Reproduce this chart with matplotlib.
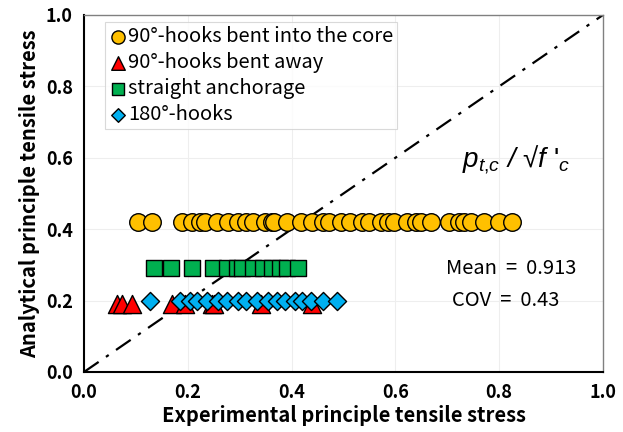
import matplotlib
matplotlib.use("Agg")
import matplotlib.pyplot as plt

plt.rcParams['font.family'] = ['Noto Sans CJK KR', 'DejaVu Sans']
plt.rcParams['mathtext.fontset'] = 'custom'
plt.rcParams['mathtext.rm'] = 'Liberation Sans'
plt.rcParams['mathtext.it'] = 'Liberation Sans:italic'

# Data
core_x = [0.104, 0.131, 0.188, 0.208, 0.223, 0.233, 0.256, 0.277, 0.296, 0.313,
          0.325, 0.348, 0.363, 0.367, 0.392, 0.419, 0.440, 0.460, 0.473, 0.496,
          0.512, 0.535, 0.550, 0.573, 0.585, 0.598, 0.623, 0.640, 0.650, 0.669,
          0.704, 0.723, 0.733, 0.746, 0.771, 0.800, 0.825]
core_y = 0.42
away_x = [0.063, 0.073, 0.092, 0.169, 0.194, 0.246, 0.250, 0.342, 0.440]
away_y = 0.19
straight_x = [0.135, 0.167, 0.208, 0.248, 0.275, 0.294, 0.304, 0.325, 0.344,
              0.363, 0.377, 0.392, 0.412]
straight_y = 0.29
hook180_x = [0.127, 0.185, 0.204, 0.217, 0.238, 0.258, 0.275, 0.296, 0.313,
             0.333, 0.354, 0.371, 0.387, 0.406, 0.421, 0.438, 0.460, 0.488]
hook180_y = 0.20

labels = ["90°-hooks bent into the core", "90°-hooks bent away",
          "straight anchorage", "180°-hooks"]
ticks = [0.0, 0.2, 0.4, 0.6, 0.8, 1.0]

fig = plt.figure(figsize=(6.23, 4.32), dpi=100)
ax = fig.add_axes([0.1348, 0.1389, 0.8330, 0.8264])

for t in ticks[1:-1]:
    ax.axvline(t, color='#eeeeee', lw=0.8, zorder=0)
    ax.axhline(t, color='#eeeeee', lw=0.8, zorder=0)

ax.plot([0, 1], [0, 1], color='black', lw=1.6, ls=(0, (8, 4, 1.5, 4)), zorder=1)

ax.scatter(core_x, [core_y] * len(core_x), marker='o', s=160, facecolor='#FFC000',
           edgecolor='black', linewidth=1.0, label=labels[0], zorder=3)
ax.scatter(away_x, [away_y] * len(away_x), marker='^', s=170, facecolor='#FF0000',
           edgecolor='black', linewidth=1.0, label=labels[1], zorder=3)
ax.scatter(straight_x, [straight_y] * len(straight_x), marker='s', s=140, facecolor='#00B050',
           edgecolor='black', linewidth=1.0, label=labels[2], zorder=3)
ax.scatter(hook180_x, [hook180_y] * len(hook180_x), marker='D', s=85, facecolor='#00B0F0',
           edgecolor='black', linewidth=1.0, label=labels[3], zorder=4)

ax.set_xlim(0, 1)
ax.set_ylim(0, 1)
ax.set_xticks(ticks)
ax.set_yticks(ticks)
ax.set_xticklabels([f"{t:.1f}" for t in ticks], fontweight='bold', fontsize=13)
ax.set_yticklabels([f"{t:.1f}" for t in ticks], fontweight='bold', fontsize=13)
ax.tick_params(length=0, pad=8)
ax.set_xlabel("Experimental principle tensile stress", fontweight='bold', fontsize=14.5, labelpad=2)
ax.set_ylabel("Analytical principle tensile stress", fontweight='bold', fontsize=14.5, labelpad=4)

for s in ['left', 'bottom']:
    ax.spines[s].set_color('black')
    ax.spines[s].set_linewidth(1.5)
for s in ['top', 'right']:
    ax.spines[s].set_color('#808080')
    ax.spines[s].set_linewidth(1.0)

leg = ax.legend(loc='upper left', bbox_to_anchor=(0.040, 0.980), fontsize=14.5,
                frameon=True, fancybox=False, edgecolor='#d0d0d0',
                handletextpad=0.05, borderpad=0.2, labelspacing=0.25,
                markerscale=0.75, handlelength=0.9, borderaxespad=0)
leg.get_frame().set_linewidth(0.8)

ax.text(0.833, 0.594, r"$p_{t{,}c}$ / √$f\ '_{c}$", fontsize=20, ha='center', va='center',
        transform=ax.transAxes, family=['Liberation Sans', 'DejaVu Sans'], style='italic')
ax.text(0.823, 0.291, "Mean  =  0.913", fontsize=14.5, ha='center', va='center', transform=ax.transAxes)
ax.text(0.813, 0.200, "COV  =  0.43", fontsize=14.5, ha='center', va='center', transform=ax.transAxes)

fig.savefig("out.png", dpi=100)
